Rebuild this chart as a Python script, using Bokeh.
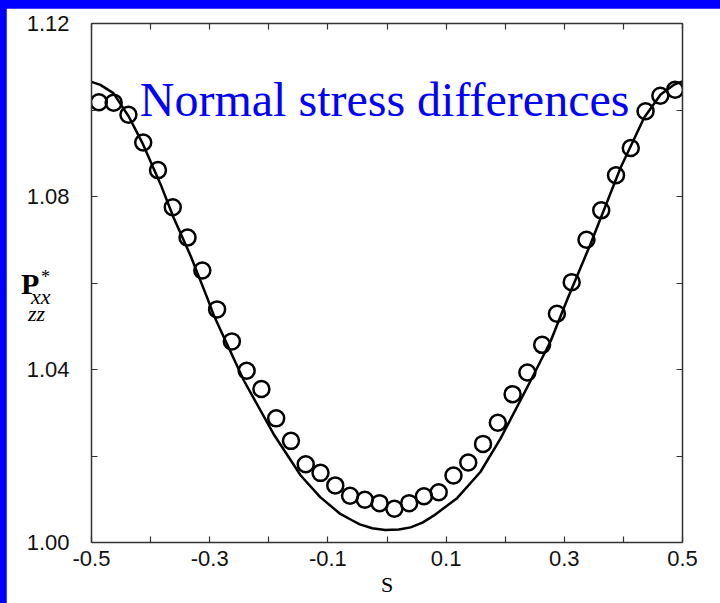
from bokeh.plotting import figure
from bokeh.models import FixedTicker, LinearAxis, Label, Range1d, NumeralTickFormatter, Div
from bokeh.layouts import column
from bokeh.embed import file_html
from bokeh.resources import INLINE

# Simulation results (open circles)
sim_s = [-0.4875, -0.4625, -0.4375, -0.4125, -0.3875, -0.3625, -0.3375, -0.3125,
         -0.2875, -0.2625, -0.2375, -0.2125, -0.1875, -0.1625, -0.1375, -0.1125,
         -0.0875, -0.0625, -0.0375, -0.0125, 0.0125, 0.0375, 0.0625, 0.0875,
         0.1125, 0.1375, 0.1625, 0.1875, 0.2125, 0.2375, 0.2625, 0.2875,
         0.3125, 0.3375, 0.3625, 0.3875, 0.4125, 0.4375, 0.4625, 0.4875]
sim_p = [1.1018, 1.1017, 1.0989, 1.0925, 1.0861, 1.0775, 1.0705, 1.0629,
         1.0539, 1.0465, 1.0397, 1.0355, 1.0287, 1.0235, 1.0181, 1.0161,
         1.0132, 1.0108, 1.0099, 1.0091, 1.0078, 1.0091, 1.0107, 1.0116,
         1.0155, 1.0185, 1.0228, 1.0277, 1.0343, 1.0393, 1.0457, 1.0529,
         1.0602, 1.0700, 1.0768, 1.0849, 1.0912, 1.0997, 1.1033, 1.1047]

# Theoretical prediction (solid line)
theory_s = [-0.5, -0.485, -0.463, -0.437, -0.414, -0.383, -0.361, -0.332, -0.304,
            -0.293, -0.242, -0.192, -0.146, -0.113, -0.079, -0.060, -0.046, -0.025,
            -0.003, 0.020, 0.040, 0.060, 0.079, 0.119, 0.158, 0.192, 0.243, 0.277,
            0.305, 0.344, 0.395, 0.435, 0.463, 0.485, 0.5]
theory_p = [1.1065, 1.1058, 1.1039, 1.0985, 1.0924, 1.0828, 1.0751, 1.0662, 1.0565,
            1.0525, 1.0374, 1.0251, 1.0155, 1.0105, 1.0066, 1.0052, 1.0042, 1.0033,
            1.0029, 1.0030, 1.0035, 1.0046, 1.0062, 1.0103, 1.0163, 1.0240, 1.0374, 1.0466,
            1.0562, 1.0689, 1.0866, 1.0982, 1.1036, 1.1058, 1.1066]

x_major = [-0.5, -0.3, -0.1, 0.1, 0.3, 0.5]
x_minor = [-0.4, -0.2, 0.0, 0.2, 0.4]
y_major = [1.00, 1.04, 1.08, 1.12]
y_minor = [1.02, 1.06, 1.10]

title_text = "Normal stress differences"
x_label = "S"

p = figure(width=714, height=595, x_range=Range1d(-0.5, 0.5), y_range=Range1d(1.0, 1.12),
           output_backend="svg", toolbar_location=None,
           min_border_left=85, min_border_right=38, min_border_top=15, min_border_bottom=61)
p.xgrid.visible = False
p.ygrid.visible = False
p.outline_line_color = None
p.background_fill_color = "white"
p.border_fill_color = "white"

def style_axis(ax, ticks, minor, fmt, show_labels):
    ax.ticker = FixedTicker(ticks=ticks, minor_ticks=minor)
    ax.formatter = NumeralTickFormatter(format=fmt)
    ax.axis_line_color = "#333333"
    ax.axis_line_width = 1.5
    ax.major_tick_line_color = "#333333"
    ax.minor_tick_line_color = "#333333"
    ax.major_tick_line_width = 1.2
    ax.minor_tick_line_width = 1.2
    ax.major_tick_in = 6
    ax.major_tick_out = 0
    ax.minor_tick_in = 6
    ax.minor_tick_out = 0
    ax.major_label_text_font = "Liberation Sans"
    ax.major_label_text_font_size = "22px" if show_labels else "0px"
    ax.major_label_text_color = "#111111"
    ax.major_label_standoff = 0

style_axis(p.xaxis[0], x_major, x_minor, "0.0", True)
p.xaxis[0].major_label_standoff = 8
p.xaxis[0].axis_label = x_label
p.xaxis[0].axis_label_text_font = "Liberation Serif"
p.xaxis[0].axis_label_text_font_style = "normal"
p.xaxis[0].axis_label_text_font_size = "22px"
p.xaxis[0].axis_label_text_color = "black"
p.xaxis[0].axis_label_standoff = 3
style_axis(p.yaxis[0], y_major, y_minor, "0.00", True)
p.yaxis[0].major_label_standoff = 22

top_ax = LinearAxis()
style_axis(top_ax, x_major, x_minor, "0.0", False)
p.add_layout(top_ax, "above")
right_ax = LinearAxis()
style_axis(right_ax, y_major, y_minor, "0.00", False)
p.add_layout(right_ax, "right")

p.line(theory_s, theory_p, line_color="black", line_width=2.5)
p.scatter(sim_s, sim_p, marker="circle", size=16, fill_alpha=0,
          line_color="black", line_width=2.5)

p.add_layout(Label(x=-0.004, y=1.1025, text=title_text, text_font="Liberation Serif",
                   text_font_size="48px", text_color="#0000ff",
                   text_align="center", text_baseline="alphabetic"))

# y-axis symbol P*_xx,zz, set as HTML in the left margin of the page.
# Each piece is placed by its baseline; with line-height 0.5 the baseline
# sits 0.5875 em below the top of the box (Liberation Serif metrics).
def piece(txt, left, baseline, size, weight="normal", style="normal"):
    top = baseline - 0.5875 * size
    return ('<span style="position:absolute; left:%dpx; top:%.1fpx; '
            'font-family:\'Liberation Serif\'; font-size:%dpx; line-height:0.5; '
            'font-weight:%s; font-style:%s; color:black; white-space:nowrap;">%s</span>'
            % (left, top, size, weight, style, txt))

ylabel_html = (piece("P", 21, 294, 30, weight="bold")
               + piece("*", 41, 284, 18)
               + piece("xx", 31, 304, 22, style="italic")
               + piece("zz", 28, 321, 22, style="italic"))

ylabel = Div(text=ylabel_html, width=60, height=80)
ylabel.stylesheets = [":host { position: absolute !important; left: 0px !important; "
                      "top: 0px !important; margin: 0 !important; padding: 0 !important; }"]

page = column(p, ylabel, styles={"background-color": "#0000ff", "padding-left": "6px",
                                 "padding-top": "8px", "position": "relative"})

open("out.html", "w").write(file_html(page, INLINE))
